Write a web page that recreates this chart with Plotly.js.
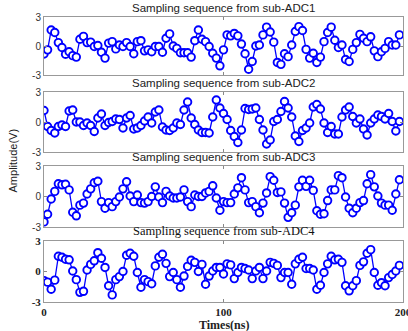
<!DOCTYPE html>
<html><head><meta charset="utf-8">
<script src="https://cdn.plot.ly/plotly-3.0.1.min.js"></script>
<style>html,body{margin:0;padding:0;background:#fff}#c{width:408px;height:331px}</style>
</head><body><div id="c"></div>
<script>
const timeStep = 2; // ns between samples
const titles = ["Sampling sequence from sub-ADC1","Sampling sequence from sub-ADC2","Sampling sequence from sub-ADC3","Sampling sequence from sub-ADC4"];
const adc1 = [-0.83,-0.4,1.65,1.4,0.35,-0.15,-0.85,-0.6,-1.0,-1.15,0.7,1.0,0.35,0.4,-0.05,0.05,-0.65,-1.25,0.3,0.45,-0.3,0.1,-0.05,0.35,-0.05,-0.8,0.45,0.55,-0.5,-0.4,-0.6,-0.05,-0.05,-0.65,0.8,1.25,0.0,-0.25,-0.7,-0.7,-0.7,-1.15,0.55,1.65,0.7,0.45,-0.05,-0.75,-1.25,-2.05,-0.4,1.15,1.05,1.3,1.05,0.2,-0.8,-2.4,-1.6,0.0,0.1,1.15,1.95,1.45,0.4,-1.7,-1.9,-0.8,-1.1,0.1,1.5,2.0,1.6,-0.35,-1.25,-0.75,-1.7,-1.15,0.45,1.4,1.95,0.6,-0.15,0.1,-1.4,-1.6,-0.35,0.35,1.2,0.8,0.45,0.95,-0.5,-1.1,-0.6,-0.25,0.45,0.1,0.1,1.15];
const adc2 = [1.15,-0.45,-0.85,-1.1,-0.45,-0.3,-0.45,1.1,1.2,0.0,0.0,-0.35,-0.1,-0.35,-0.95,0.4,0.8,-0.35,-0.05,0.05,0.3,0.25,-0.6,0.4,0.65,-0.7,-0.6,-0.35,0.1,0.5,-0.1,1.0,1.2,-0.5,-0.8,-0.85,-0.6,-0.1,-0.25,1.2,2.0,0.4,-0.25,-0.8,-1.05,-1.05,-1.1,0.5,2.2,1.4,0.85,0.25,-0.85,-1.45,-2.05,-0.8,1.35,1.25,1.3,1.4,0.25,-0.8,-2.2,-1.8,0.05,0.25,1.05,2.05,1.4,0.5,-1.4,-1.95,-0.85,-0.6,-0.1,1.5,1.75,1.3,-0.1,-1.05,-0.45,-1.2,-1.2,0.5,1.2,1.5,0.55,-0.1,0.3,-0.7,-1.3,-0.1,0.3,0.7,0.55,0.3,0.85,0.05,-0.9,0.05];
const adc3 = [-2.5,-1.75,-0.25,0.5,1.25,1.15,1.2,0.65,-1.55,-1.9,-0.85,-0.65,0.25,0.75,1.35,1.5,-0.5,-1.15,-0.6,-1.0,-0.5,-0.05,0.75,1.45,0.05,-0.5,0.15,-0.6,-0.65,-0.5,0.0,0.95,-0.05,-0.6,0.5,0.05,-0.15,-0.15,-0.05,0.65,-0.5,-1.0,0.15,0.0,0.0,0.35,0.5,1.05,-0.15,-1.35,-0.5,-0.6,-0.6,0.25,0.85,1.85,0.65,-0.6,-0.5,-1.0,-1.6,-0.65,0.35,1.95,1.6,0.4,0.45,-0.65,-2.05,-1.6,-0.85,0.95,1.6,1.0,1.6,0.6,-1.4,-1.75,-1.7,-0.4,0.65,0.65,2.05,1.85,-0.05,-1.15,-1.6,-1.15,-0.6,-0.4,1.25,2.15,0.95,0.05,-0.65,-0.85,-0.85,-1.35,0.25,1.65];
const adc4 = [-0.9,-1.05,-1.75,-0.85,1.5,1.4,1.2,1.15,0.05,-0.8,-2.05,-1.95,0.15,0.7,1.05,1.85,1.3,0.4,-1.4,-2.3,-0.8,-0.5,0.0,1.6,1.8,1.5,-0.1,-1.55,-0.8,-1.0,-1.2,0.55,1.4,1.7,0.8,-0.5,-0.1,-0.8,-1.55,-0.45,0.5,1.1,0.9,0.0,0.7,-1.25,-0.45,0.05,0.4,0.4,-0.25,0.75,0.65,-0.7,-0.1,0.4,0.3,0.15,-0.7,0.05,0.4,-0.7,0.05,0.9,0.8,0.6,-0.6,-0.1,-0.1,-1.25,0.75,1.2,1.4,0.3,0.3,0.15,-1.75,-1.35,-0.1,0.75,1.5,1.15,1.2,0.9,-1.4,-1.9,-1.4,-0.9,0.6,0.95,1.8,2.15,-0.1,-1.35,-1.1,-1.4,-0.6,-0.3,0.05,0.6];
const yTicks = [-3,0,3];
const xTicks = [0,100,200];
const xLabel = "Times(ns)";
const yLabel = "Amplitude(V)";

const series = [adc1,adc2,adc3,adc4];
const H = 331;
const boxes = [[17,75],[92,152],[166,227],[241,302]];
const traces = [], layout = {
  width:408, height:331, margin:{l:44,r:5,t:0,b:0},
  paper_bgcolor:'#fff', plot_bgcolor:'#fff', showlegend:false,
  annotations:[]
};
series.forEach((s,k)=>{
  const n = k===0?'':(k+1);
  traces.push({
    x: s.map((_,i)=>i*timeStep), y: s, type:'scatter', mode:'lines+markers',
    xaxis:'x'+n, yaxis:'y'+n,
    line:{color:'#0000ff', width:1.3},
    marker:{symbol:'circle', size:7.5, color:'#ffffff', line:{color:'#0000ff', width:1.9}},
    cliponaxis:true
  });
  const serif = k===3;
  const dom = [1-boxes[k][1]/H, 1-boxes[k][0]/H];
  layout['xaxis'+n] = {
    domain:[0,1], range:[0,200], anchor:'y'+n, tickmode:'array', tickvals:xTicks,
    ticktext: xTicks.map(v=>'<b>'+v+'</b>'), ticklabeloverflow:'allow',
    showticklabels:k===3, ticks:'inside', ticklen:3, tickcolor:'#888',
    showline:true, linecolor:'#999', linewidth:1, mirror:'ticks', showgrid:false, zeroline:false,
    tickfont:{family:'Liberation Serif', size:11, color:'#222'}
  };
  layout['yaxis'+n] = {
    domain:dom, range:[-3,3], anchor:'x'+n, tickmode:'array', tickvals:yTicks,
    ticktext: yTicks.map(v=>serif?'<b>'+v+'</b>':String(v)),
    ticks:'inside', ticklen:3, tickcolor:'#888',
    showline:true, linecolor:'#999', linewidth:1, mirror:'ticks', showgrid:false, zeroline:false,
    tickfont: serif?{family:'Liberation Serif', size:11, color:'#222'}:{family:'Liberation Sans', size:10, color:'#333'}
  };
  layout.annotations.push({
    text: titles[k], xref:'paper', yref:'paper', x:0.5, y:1-(boxes[k][0]-1)/H,
    xanchor:'center', yanchor:'bottom', showarrow:false,
    font: serif?{family:'Liberation Serif', size:12.5, color:'#111'}:{family:'Liberation Sans', size:11.5, color:'#222'}
  });
});
layout.annotations.push({text:'<b>'+xLabel+'</b>', xref:'paper', yref:'paper', x:0.5, y:1-316/H, xanchor:'center', yanchor:'top', showarrow:false, font:{family:'Liberation Serif', size:12, color:'#222'}});
layout.annotations.push({text:yLabel, xref:'paper', yref:'paper', x:-0.085, y:1-160/H, xanchor:'center', yanchor:'middle', textangle:-90, showarrow:false, font:{family:'Liberation Sans', size:11, color:'#222'}});
Plotly.newPlot('c', traces, layout, {staticPlot:true, displayModeBar:false});
</script></body></html>
